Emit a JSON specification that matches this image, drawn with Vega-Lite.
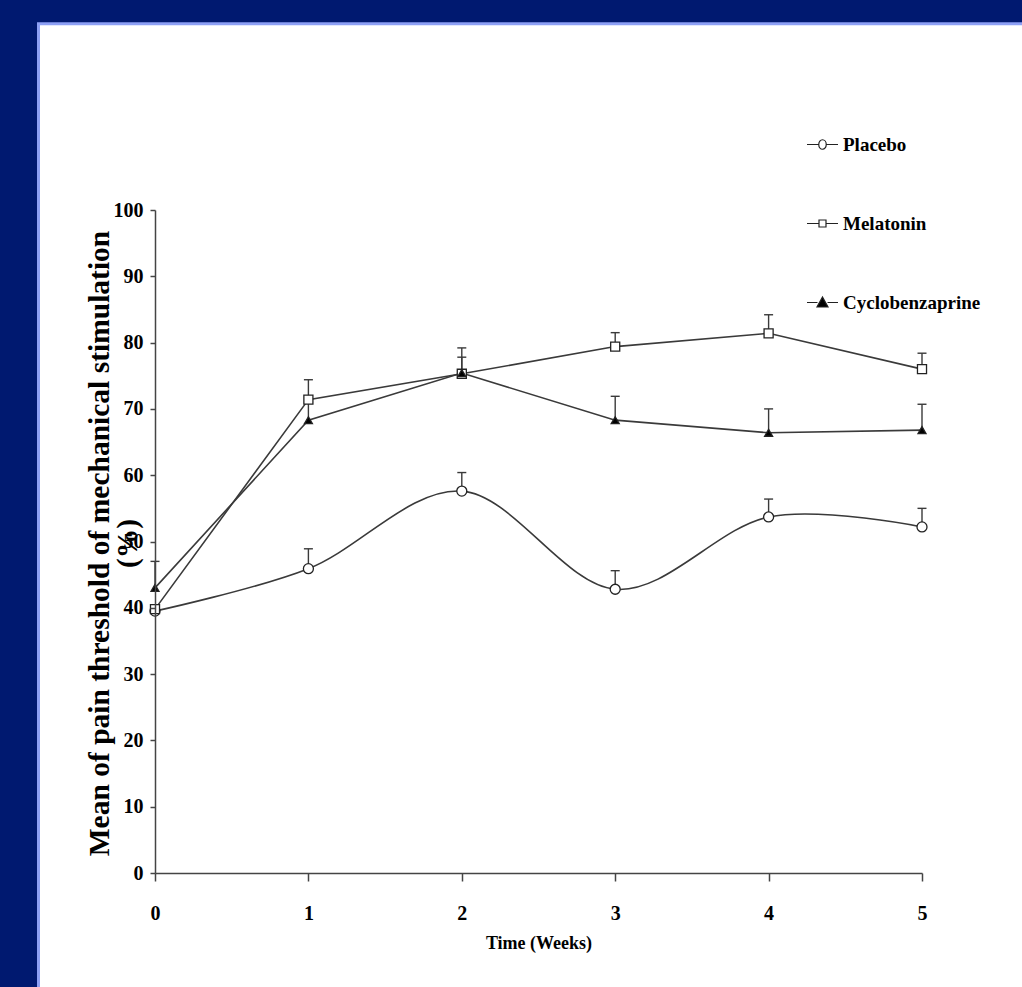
{
  "$schema": "https://vega.github.io/schema/vega-lite/v6.json",
  "width": 767,
  "height": 663,
  "autosize": {"type": "none"},
  "padding": {"left": 155, "top": 210, "right": 100, "bottom": 114},
  "background": "#001970",
  "config": {"font": "Liberation Serif", "view": {"stroke": null}},
  "data": {
    "values": [
      {"week": 0, "group": "Placebo", "mean": 39.5, "upper": 39.5},
      {"week": 1, "group": "Placebo", "mean": 45.9, "upper": 48.9},
      {"week": 2, "group": "Placebo", "mean": 57.6, "upper": 60.4},
      {"week": 3, "group": "Placebo", "mean": 42.8, "upper": 45.6},
      {"week": 4, "group": "Placebo", "mean": 53.7, "upper": 56.4},
      {"week": 5, "group": "Placebo", "mean": 52.2, "upper": 55.0},
      {"week": 0, "group": "Melatonin", "mean": 39.8, "upper": 39.8},
      {"week": 1, "group": "Melatonin", "mean": 71.4, "upper": 74.4},
      {"week": 2, "group": "Melatonin", "mean": 75.3, "upper": 79.2},
      {"week": 3, "group": "Melatonin", "mean": 79.4, "upper": 81.5},
      {"week": 4, "group": "Melatonin", "mean": 81.4, "upper": 84.2},
      {"week": 5, "group": "Melatonin", "mean": 76.0, "upper": 78.4},
      {"week": 0, "group": "Cyclobenzaprine", "mean": 43.0, "upper": 47.0},
      {"week": 1, "group": "Cyclobenzaprine", "mean": 68.3, "upper": 71.0},
      {"week": 2, "group": "Cyclobenzaprine", "mean": 75.4, "upper": 77.8},
      {"week": 3, "group": "Cyclobenzaprine", "mean": 68.3, "upper": 71.9},
      {"week": 4, "group": "Cyclobenzaprine", "mean": 66.4, "upper": 70.0},
      {"week": 5, "group": "Cyclobenzaprine", "mean": 66.8, "upper": 70.7}
    ]
  },
  "resolve": {"scale": {"shape": "independent", "fill": "independent", "size": "independent", "stroke": "independent"}},
  "layer": [
    {
      "data": {"values": [{"panel": "frame"}]},
      "mark": {"type": "rect", "fill": "white", "stroke": "#8da0f5", "strokeWidth": 3},
      "encoding": {
        "x": {"datum": -0.7595, "type": "quantitative", "scale": {"domain": [0, 5], "nice": false, "zero": false}},
        "x2": {"datum": 6.0},
        "y": {"datum": 128.1, "type": "quantitative", "scale": {"domain": [0, 100], "nice": false}},
        "y2": {"datum": -20}
      }
    },
    {
      "transform": [{"filter": "datum.group === 'Placebo'"}],
      "mark": {"type": "line", "interpolate": "cardinal", "stroke": "#3a3a3a", "strokeWidth": 1.6},
      "encoding": {
        "x": {"field": "week", "type": "quantitative", "scale": {"domain": [0, 5], "nice": false, "zero": false},
          "axis": {
            "zindex": 1,
            "values": [0, 1, 2, 3, 4, 5], "format": "d", "grid": false, "labelFlush": false,
            "title": "Time (Weeks)", "titleFont": "Liberation Serif", "titleFontSize": 18, "titleFontWeight": "bold",
            "titleColor": "black", "titleX": 383.5, "titleY": 70, "titleAlign": "center", "titleBaseline": "middle",
            "labelFont": "Liberation Serif", "labelFontSize": 20, "labelFontWeight": "bold", "labelColor": "black",
            "labelPadding": 22, "tickSize": 8, "tickColor": "#444", "tickWidth": 1.5,
            "domainColor": "#444", "domainWidth": 1.5
          }
        },
        "y": {"field": "mean", "type": "quantitative", "scale": {"domain": [0, 100], "nice": false},
          "axis": {
            "zindex": 1,
            "values": [0, 10, 20, 30, 40, 50, 60, 70, 80, 90, 100], "grid": false,
            "title": ["Mean of pain threshold of mechanical stimulation", "(%)"],
            "titleFont": "Liberation Serif", "titleFontSize": 29.5, "titleFontWeight": "bold", "titleColor": "black",
            "titleAngle": -90, "titleX": -56, "titleY": 333, "titleAlign": "center", "titleBaseline": "middle",
            "titleLineHeight": 28,
            "labelFont": "Liberation Serif", "labelFontSize": 20, "labelFontWeight": "bold", "labelColor": "black",
            "labelPadding": 7, "tickSize": 5, "tickColor": "#444", "tickWidth": 1.5,
            "domainColor": "#444", "domainWidth": 1.5
          }
        },
        "detail": {"field": "group"}
      }
    },
    {
      "transform": [{"filter": "datum.group !== 'Placebo'"}],
      "mark": {"type": "line", "interpolate": "linear", "stroke": "#3a3a3a", "strokeWidth": 1.6},
      "encoding": {
        "x": {"field": "week", "type": "quantitative"},
        "y": {"field": "mean", "type": "quantitative"},
        "detail": {"field": "group"}
      }
    },
    {
      "transform": [{"filter": "datum.upper > datum.mean"}],
      "mark": {"type": "rule", "stroke": "#3a3a3a", "strokeWidth": 1.4},
      "encoding": {
        "x": {"field": "week", "type": "quantitative"},
        "y": {"field": "mean", "type": "quantitative"},
        "y2": {"field": "upper"}
      }
    },
    {
      "transform": [{"filter": "datum.upper > datum.mean"}],
      "mark": {"type": "tick", "orient": "horizontal", "size": 9, "thickness": 1.4, "color": "#3a3a3a", "opacity": 1},
      "encoding": {
        "x": {"field": "week", "type": "quantitative"},
        "y": {"field": "upper", "type": "quantitative"}
      }
    },
    {
      "mark": {"type": "point", "filled": false, "stroke": "#222", "strokeWidth": 1.3, "opacity": 1},
      "encoding": {
        "x": {"field": "week", "type": "quantitative"},
        "y": {"field": "mean", "type": "quantitative"},
        "shape": {
          "field": "group", "type": "nominal",
          "scale": {"domain": ["Placebo", "Melatonin", "Cyclobenzaprine"], "range": ["circle", "square", "triangle-up"]},
          "legend": null
        },
        "fill": {
          "field": "group", "type": "nominal",
          "scale": {"domain": ["Placebo", "Melatonin", "Cyclobenzaprine"], "range": ["#ffffff", "#ffffff", "#000000"]},
          "legend": null
        },
        "size": {
          "field": "group", "type": "nominal",
          "scale": {"domain": ["Placebo", "Melatonin", "Cyclobenzaprine"], "range": [100, 64, 110]},
          "legend": null
        }
      }
    },
    {
      "transform": [{"filter": "false"}],
      "mark": {"type": "point", "filled": false, "strokeWidth": 1.2, "opacity": 1, "size": 100},
      "encoding": {
        "x": {"field": "week", "type": "quantitative"},
        "y": {"field": "mean", "type": "quantitative"},
        "shape": {
          "field": "group", "type": "nominal",
          "scale": {
            "domain": ["Placebo", "Melatonin", "Cyclobenzaprine"],
            "range": [
              "M-3.1,0H-0.75M0.75,0H3.1M0.75,0A0.75,0.95 0 1,1 -0.75,0A0.75,0.95 0 1,1 0.75,0Z",
              "M-3.1,0H-0.7M0.7,0H3.1M-0.7,-0.7H0.7V0.7H-0.7Z",
              "M-3.1,0H-1M1,0H3.1M0,-1.1L1.1,0.9L-1.1,0.9Z"
            ]
          },
          "legend": {
            "zindex": 1,
            "orient": "none", "legendX": 658, "legendY": -75, "title": null,
            "labelFont": "Liberation Serif", "labelFontSize": 19, "labelFontWeight": "bold", "labelColor": "black",
            "rowPadding": 59, "labelOffset": 11, "symbolSize": 100, "symbolStrokeWidth": 1.2,
            "symbolOpacity": 1
          }
        },
        "fill": {
          "field": "group", "type": "nominal",
          "scale": {"domain": ["Placebo", "Melatonin", "Cyclobenzaprine"], "range": ["#ffffff", "#ffffff", "#000000"]}
        },
        "stroke": {
          "field": "group", "type": "nominal",
          "scale": {"domain": ["Placebo", "Melatonin", "Cyclobenzaprine"], "range": ["#222222", "#222222", "#222222"]}
        }
      }
    }
  ]
}
